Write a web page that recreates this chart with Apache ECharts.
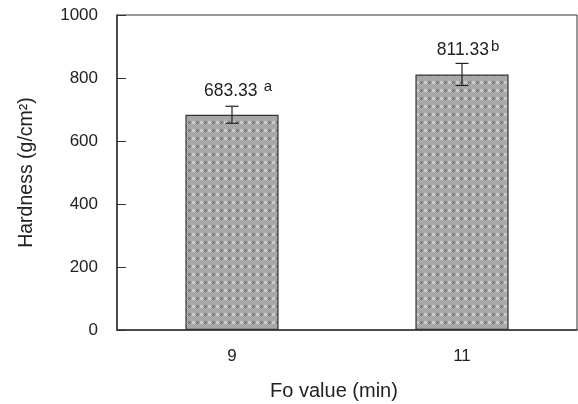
<!DOCTYPE html>
<html><head><meta charset="utf-8">
<script src="https://cdn.jsdelivr.net/npm/echarts@6/dist/echarts.min.js"></script>
<style>html,body{margin:0;padding:0;background:#fff}#c{width:578px;height:404px}</style>
</head><body><div id="c"></div>
<script>
var categories = ['9', '11'];
var hardness = [683.33, 811.33];
var sd = [27, 35];
var letters = [' a', 'b'];
var yTicks = [0, 200, 400, 600, 800, 1000];

function makePattern() {
  var c = document.createElement('canvas');
  c.width = 8; c.height = 8;
  var g = c.getContext('2d');
  for (var y = 0; y < 8; y++) for (var x = 0; x < 8; x++) {
    g.fillStyle = ((x + y) % 2) ? '#9c9c9c' : '#b4b4b4';
    g.fillRect(x, y, 1, 1);
  }
  g.fillStyle = '#cacaca'; g.fillRect(0, 1, 3, 3);
  g.fillStyle = '#868686'; g.fillRect(4, 1, 3, 3);
  return c;
}
var font = '"Liberation Sans", Arial, sans-serif';
var chart = echarts.init(document.getElementById('c'));
var errData = hardness.map(function (v, i) { return [i, v - sd[i], v + sd[i]]; });
chart.setOption({
  animation: false,
  textStyle: { fontFamily: font },
  grid: { left: 117, right: 1, top: 15, bottom: 74, show: true, borderColor: '#333', borderWidth: 1,
          containLabel: false, outerBoundsMode: 'none' },
  xAxis: {
    type: 'category', data: categories,
    name: 'Fo value (min)', nameLocation: 'middle', nameGap: 51,
    nameTextStyle: { fontSize: 20, color: '#222', fontFamily: font, padding: [0, 26, 0, 0] },
    axisLine: { lineStyle: { color: '#333', width: 1.5 } },
    axisTick: { inside: true, length: 9, lineStyle: { color: '#333' } },
    axisLabel: { fontSize: 17, color: '#222', margin: 18, fontFamily: font }
  },
  yAxis: {
    type: 'value', min: 0, max: 1000, interval: 200,
    name: 'Hardness (g/cm²)', nameLocation: 'middle', nameGap: 80,
    nameTextStyle: { fontSize: 19.5, color: '#222', fontFamily: font },
    axisLine: { show: true, lineStyle: { color: '#333', width: 1.5 } },
    axisTick: { show: true, inside: true, length: 9, lineStyle: { color: '#333' } },
    axisLabel: { fontSize: 17, color: '#222', margin: 19, fontFamily: font,
      formatter: function (v) { return yTicks.indexOf(v) >= 0 ? String(v) : ''; } },
    splitLine: { show: false }
  },
  series: [{
    type: 'bar', data: hardness, barWidth: '40.5%',
    itemStyle: { color: { image: makePattern(), repeat: 'repeat' }, borderColor: '#333', borderWidth: 1.2 },
    label: {
      show: true, position: 'top', distance: 15, offset: [6, 0],
      formatter: function (p) { return '{v|' + p.value.toFixed(2) + '}{s|' + letters[p.dataIndex] + '}'; },
      rich: {
        v: { fontSize: 17.5, color: '#222', fontFamily: font, verticalAlign: 'bottom', lineHeight: 20 },
        s: { fontSize: 15, color: '#222', fontFamily: font, verticalAlign: 'top', lineHeight: 20, padding: [0, 0, 12, 2] }
      }
    }
  }, {
    type: 'custom', data: errData, z: 10,
    renderItem: function (params, api) {
      var x = api.coord([api.value(0), 0])[0];
      var lo = api.coord([api.value(0), api.value(1)])[1];
      var hi = api.coord([api.value(0), api.value(2)])[1];
      var w = 6.5;
      var st = { stroke: '#222', lineWidth: 1.2 };
      return { type: 'group', children: [
        { type: 'line', shape: { x1: x, y1: lo, x2: x, y2: hi }, style: st },
        { type: 'line', shape: { x1: x - w, y1: lo, x2: x + w, y2: lo }, style: st },
        { type: 'line', shape: { x1: x - w, y1: hi, x2: x + w, y2: hi }, style: st }
      ]};
    }
  }]
});
</script></body></html>
